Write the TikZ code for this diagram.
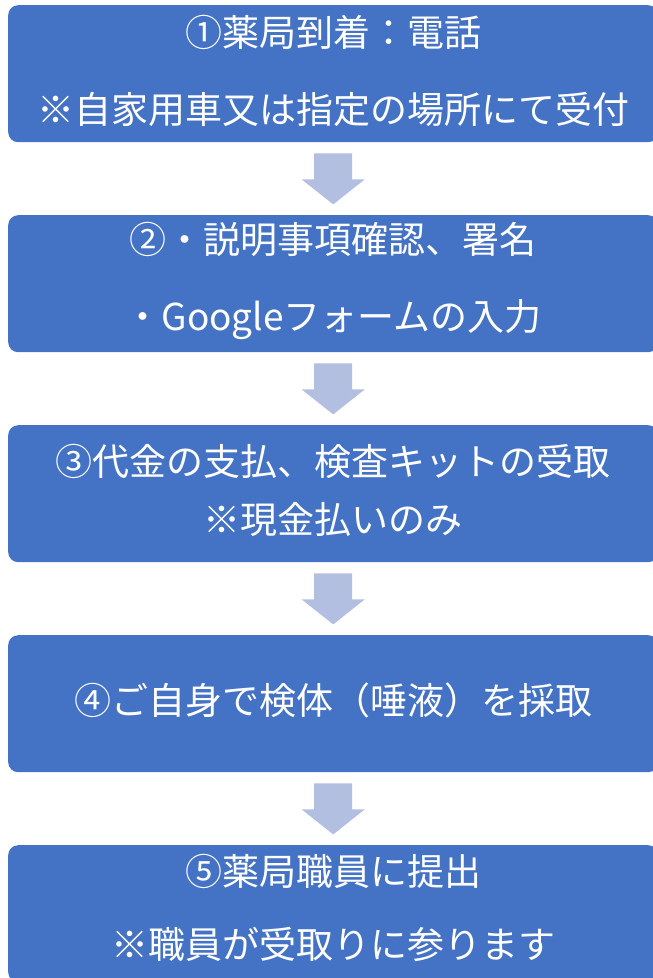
\documentclass[tikz,border=0pt]{standalone}
\usepackage{fontspec}
\setmainfont{Noto Sans CJK JP}
\usetikzlibrary{calc}
\definecolor{stepblue}{HTML}{4472C4}
\definecolor{arrowgray}{HTML}{B3BFE0}

\begin{document}
\begin{tikzpicture}[x=1pt, y=-1pt,
    stepbox/.style={fill=stepblue, rounded corners=10pt, minimum width=650pt, minimum height=137pt,
      anchor=north west, inner sep=0pt},
    steptext/.style={inner sep=0pt, text=white, align=center, font=\fontsize{37}{45}\selectfont},
    downarrow/.style={fill=arrowgray}]
    \useasboundingbox (0,0) rectangle (653,978);
    \node[stepbox] (s1) at (8,5) {};
    \node[stepbox] (s2) at (8,215) {};
    \node[stepbox] (s3) at (8,425) {};
    \node[stepbox] (s4) at (8,635) {};
    \node[stepbox] (s5) at (8,845) {};
    \node[steptext] (t1) at ($(s1.center)+(0,-3)$) {①薬局到着：電話\\[32pt]※自家用車又は指定の場所にて受付};
    \node[steptext] (t2) at ($(s2.center)+(0,-3)$) {②・説明事項確認、署名\\[32pt]・Googleフォームの入力};
    \node[steptext] (t3) at ($(s3.center)+(0,-3)$) {③代金の支払、検査キットの受取\\[13pt]※現金払いのみ};
    \node[steptext] (t4) at ($(s4.center)+(0,-3)$) {④ご自身で検体（唾液）を採取};
    \node[steptext] (t5) at ($(s5.center)+(0,-6)$) {⑤薬局職員に提出\\[28pt]※職員が受取りに参ります};
    % block arrows between the steps
    \foreach \a/\b in {s1/s2,s2/s3,s3/s4,s4/s5}
      \fill[downarrow] ($(\a.south)+(-19,11)$) -- ++(38,0) -- ++(0,26) -- ++(12.5,0)
        -- ++(-31.5,25) -- ++(-31.5,-25) -- ++(12.5,0) -- cycle;
\end{tikzpicture}
\end{document}
